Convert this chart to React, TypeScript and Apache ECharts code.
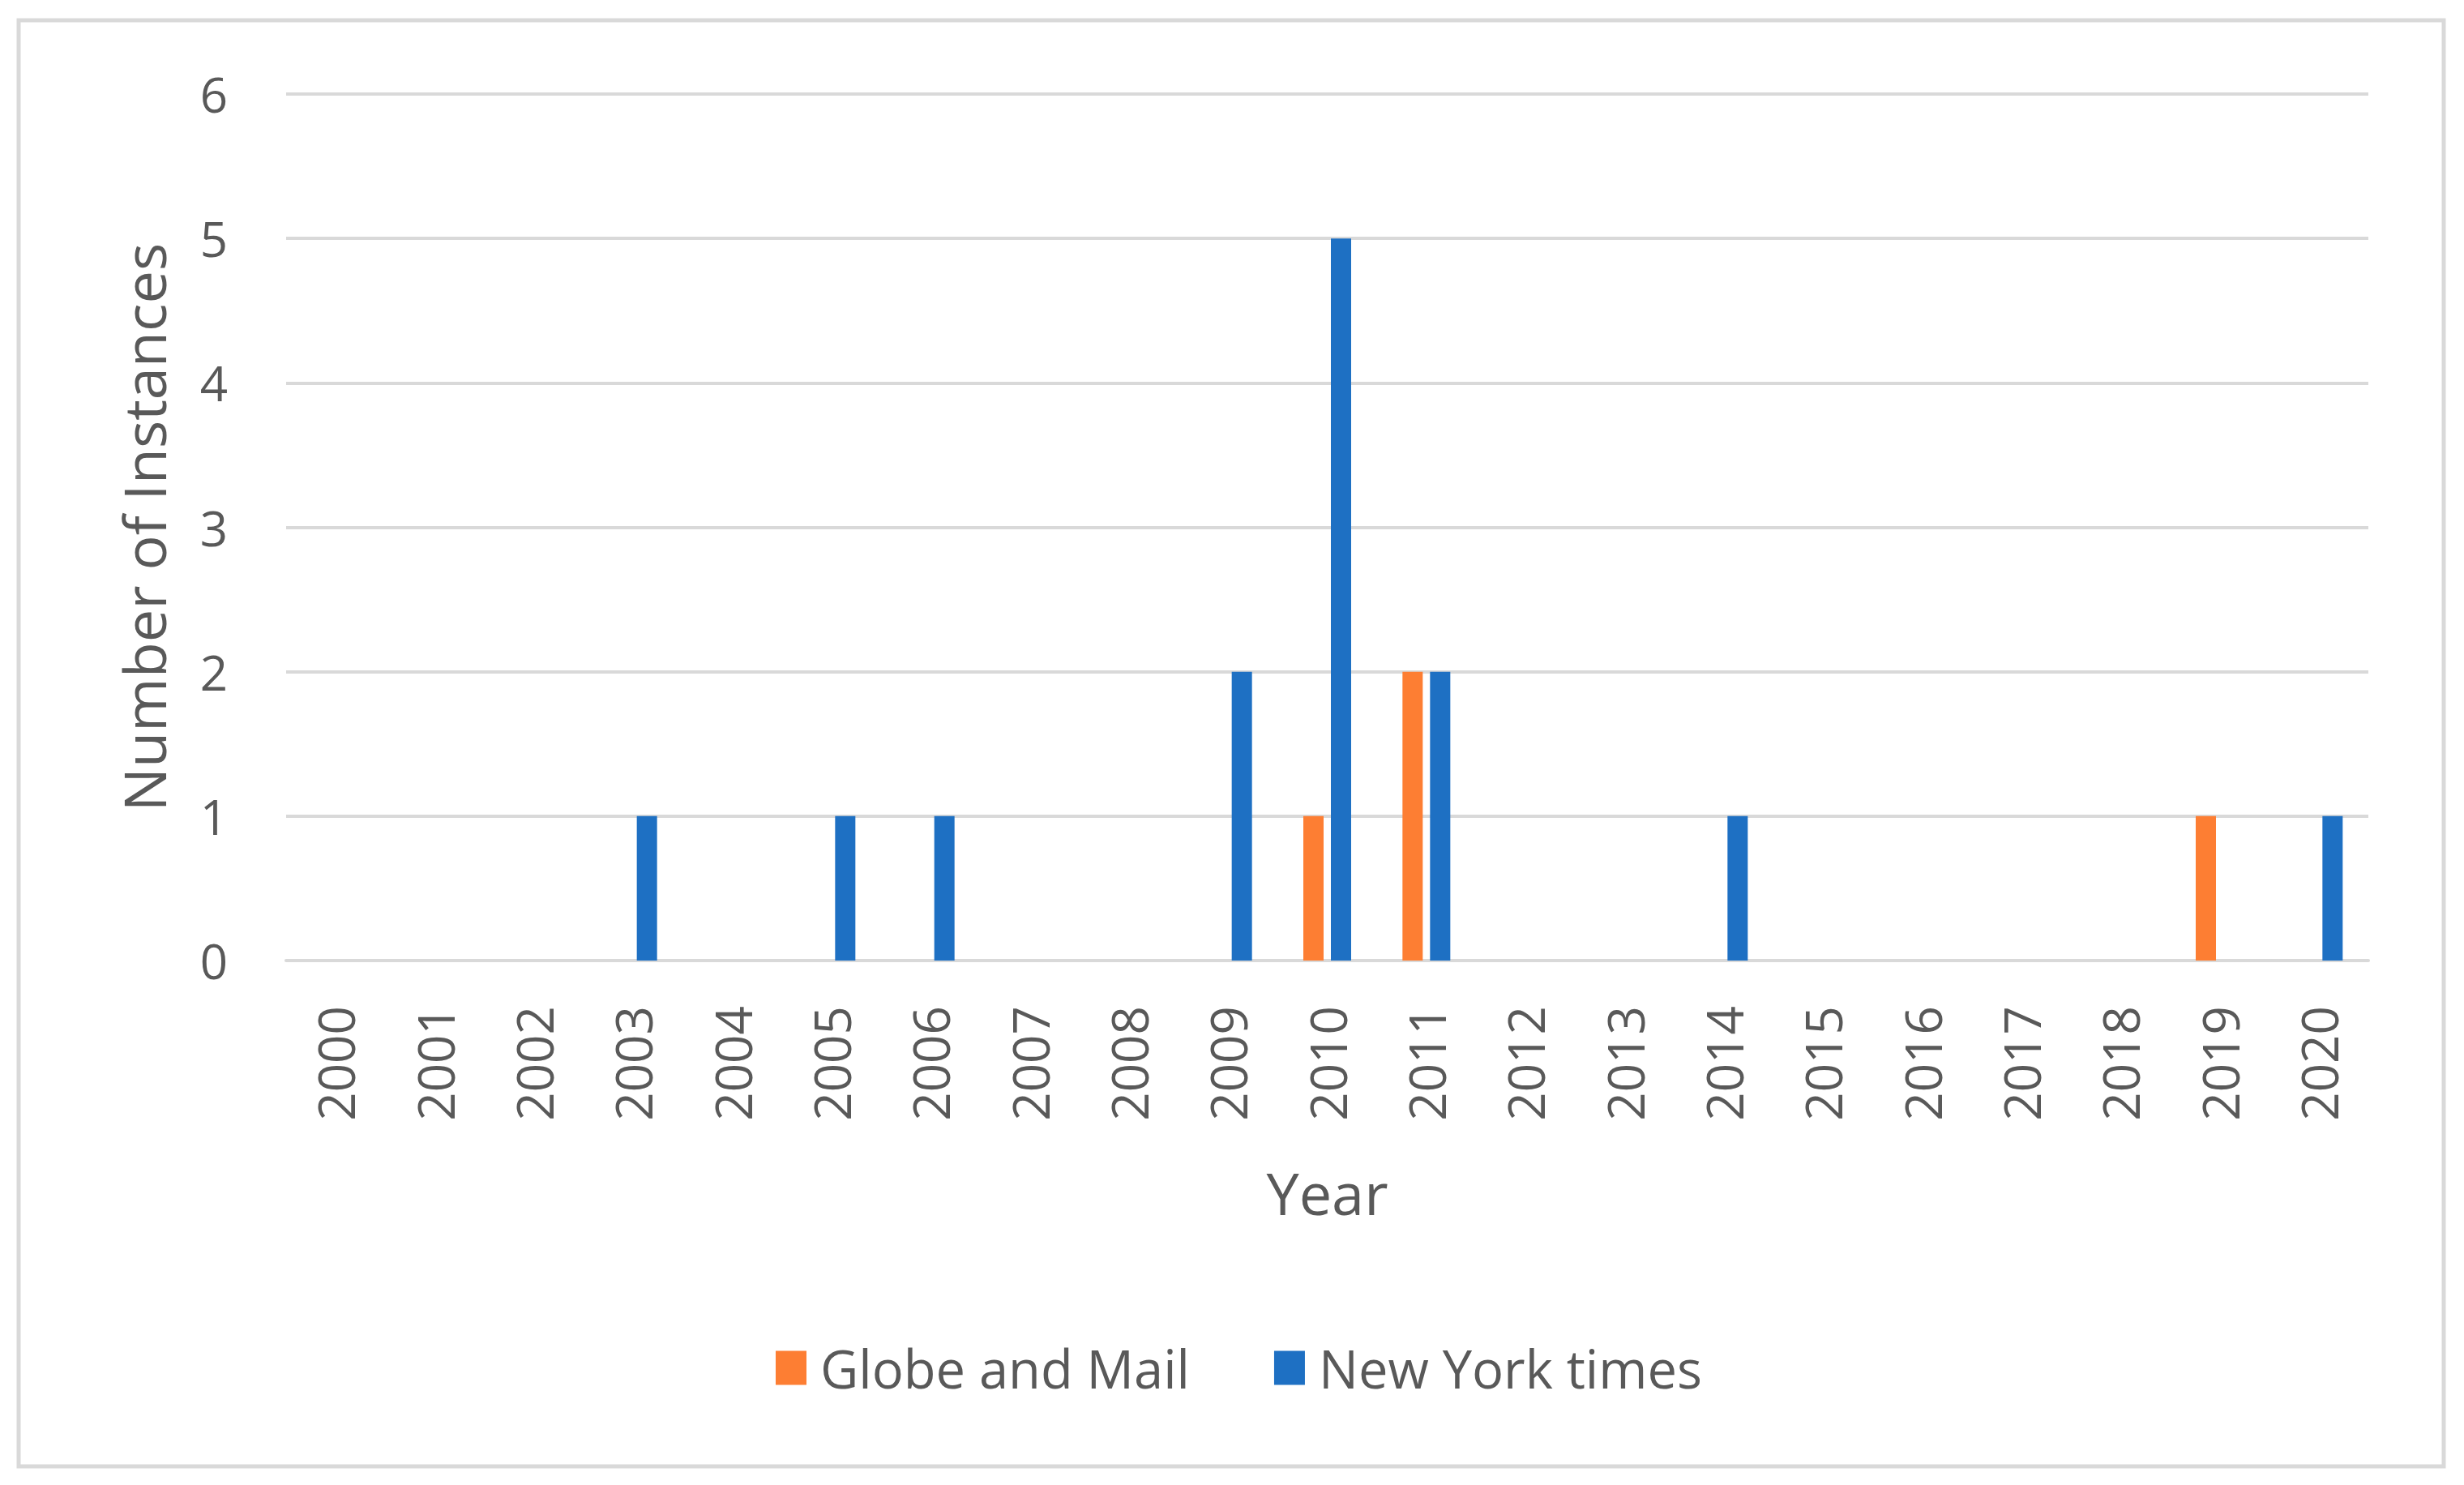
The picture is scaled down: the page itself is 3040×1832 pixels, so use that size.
import React, { useEffect, useRef } from "react";
import * as echarts from "echarts";

const years = [
  "2000", "2001", "2002", "2003", "2004", "2005", "2006", "2007", "2008", "2009", "2010",
  "2011", "2012", "2013", "2014", "2015", "2016", "2017", "2018", "2019", "2020",
];
const globeAndMail = [0, 0, 0, 0, 0, 0, 0, 0, 0, 0, 1, 2, 0, 0, 0, 0, 0, 0, 0, 1, 0];
const newYorkTimes = [0, 0, 0, 1, 0, 1, 1, 0, 0, 2, 5, 2, 0, 0, 1, 0, 0, 0, 0, 0, 1];
const seriesNames = ["Globe and Mail", "New York times"];
const yTicks = { min: 0, max: 6, interval: 1 };

const FONT = "'Open Sans', 'DejaVu Sans', sans-serif";
const TEXT = "#595959";
const GRID = "#d9d9d9";

export default function App() {
  const ref = useRef<HTMLDivElement>(null);
  useEffect(() => {
    if (!ref.current) return;
    const chart = echarts.init(ref.current, null, { renderer: "svg" });
    chart.setOption({
      animation: false,
      backgroundColor: "#ffffff",
      textStyle: { fontFamily: FONT },
      graphic: [
        {
          type: "rect",
          shape: { x: 23, y: 25, width: 2992, height: 1784 },
          style: { fill: "none", stroke: GRID, lineWidth: 5 },
          silent: true,
        },
      ],
      grid: { left: 353, right: 118, top: 116, bottom: 647, containLabel: false },
      legend: {
        data: seriesNames,
        left: 952,
        top: 1650,
        itemWidth: 38,
        itemHeight: 42,
        itemGap: 104,
        icon: "rect",
        textStyle: { fontFamily: FONT, fontSize: 65, color: TEXT, padding: [0, 0, 0, 12] },
      },
      xAxis: {
        type: "category",
        data: years,
        name: "Year",
        nameLocation: "middle",
        nameGap: 250,
        nameTextStyle: { fontFamily: FONT, fontSize: 72, color: TEXT, verticalAlign: "top" },
        axisLine: { show: true, lineStyle: { color: GRID, width: 4 } },
        axisTick: { show: false },
        axisLabel: { rotate: 90, margin: 56, fontFamily: FONT, fontSize: 62, color: TEXT },
      },
      yAxis: {
        type: "value",
        min: yTicks.min,
        max: yTicks.max,
        interval: yTicks.interval,
        name: "Number of Instances",
        nameLocation: "middle",
        nameRotate: 90,
        nameGap: 140,
        nameTextStyle: { fontFamily: FONT, fontSize: 72, color: TEXT },
        axisLine: { show: false },
        axisTick: { show: false },
        splitLine: { show: true, lineStyle: { color: GRID, width: 4 } },
        axisLabel: { margin: 72, fontFamily: FONT, fontSize: 60, color: TEXT },
      },
      series: [
        {
          name: seriesNames[0],
          type: "bar",
          data: globeAndMail,
          barWidth: 25,
          barGap: "36%",
          itemStyle: { color: "#FD7E33" },
        },
        {
          name: seriesNames[1],
          type: "bar",
          data: newYorkTimes,
          barWidth: 25,
          barGap: "36%",
          itemStyle: { color: "#1E70C3" },
        },
      ],
    });
    return () => chart.dispose();
  }, []);
  return (
    <div
      ref={ref}
      style={{ position: "fixed", left: 0, top: 0, width: 3040, height: 1832, background: "#fff" }}
    />
  );
}
